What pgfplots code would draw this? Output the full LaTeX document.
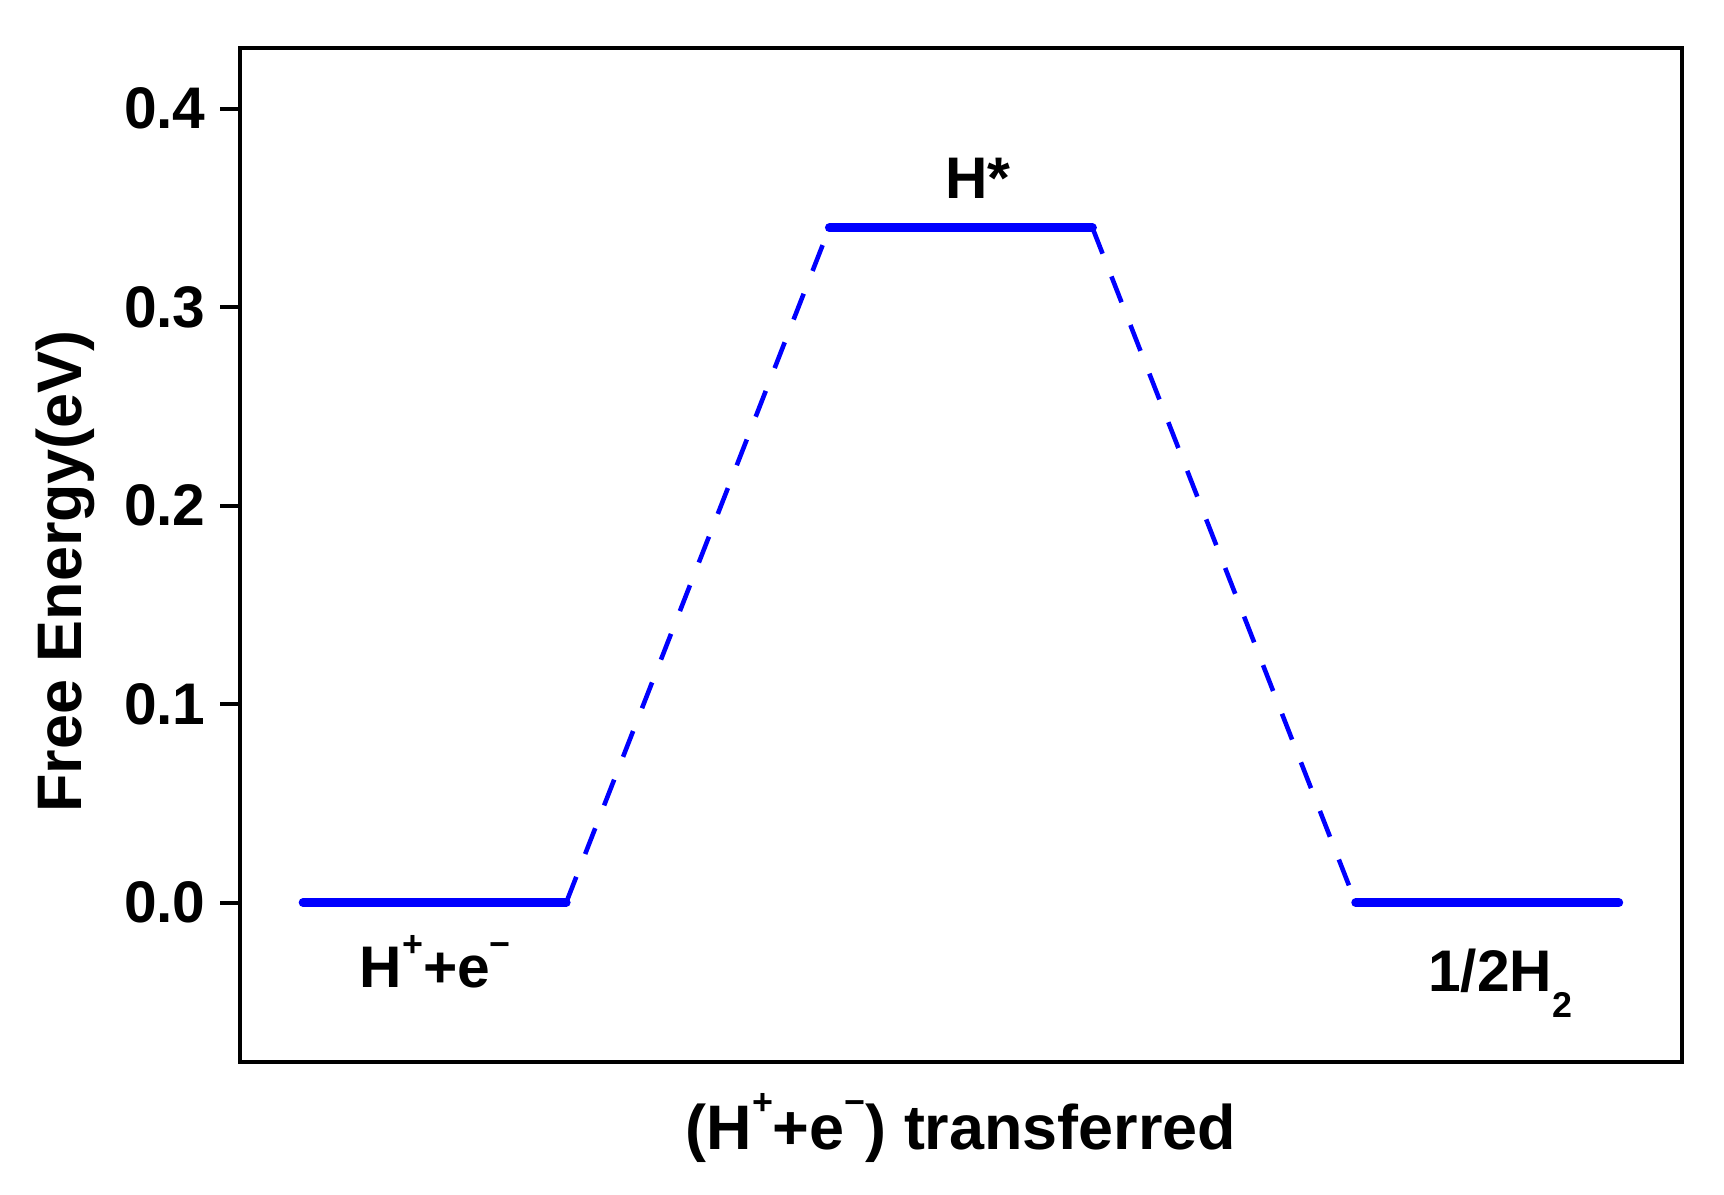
\documentclass[border=0pt]{standalone}
\usepackage{fontspec}
\setmainfont{Liberation Sans}
\usepackage{pgfplots}
\pgfplotsset{compat=1.18}
\definecolor{lvl}{RGB}{0,0,255}
\newcommand{\up}[2][9.6pt]{\raisebox{#1}{\fontsize{11}{12}\selectfont #2}}
\newcommand{\down}[1]{\raisebox{-7.7pt}{\fontsize{11}{12}\selectfont #1}}

\begin{document}
\begin{tikzpicture}
\begin{axis}[
    scale only axis,
    width=442.4pt, height=311pt,
    xmin=-0.24, xmax=5.24,
    ymin=-0.0803, ymax=0.4305,
    axis line style={line width=1.2pt},
    xtick=\empty,
    ytick={0,0.1,0.2,0.3,0.4},
    ytick pos=left,
    tick align=outside,
    major tick length=6pt,
    every tick/.style={black, line width=1.2pt},
    yticklabel style={/pgf/number format/.cd, fixed, fixed zerofill, precision=1, assume math mode=true},
    ticklabel style={font=\fontsize{18}{20}\selectfont\bfseries},
    yticklabel shift=1pt,
    label style={font=\fontsize{19.3}{22}\selectfont\bfseries},
    xlabel={(H\up[10.5pt]{+}+e\up[10.5pt]{−}) transferred},
    ylabel={Free Energy(eV)},
    xlabel style={at={(axis description cs:0.5,0)}, anchor=base, yshift=-26.7pt},
    ylabel style={at={(axis description cs:-0.1212,0.484)}, anchor=center},
    clip=false,
]
% energy levels
\addplot[lvl, line width=2.7pt, line cap=round] coordinates {(0,0) (1,0)};
\addplot[lvl, line width=2.7pt, line cap=round] coordinates {(2,0.34) (3,0.34)};
\addplot[lvl, line width=2.7pt, line cap=round] coordinates {(4,0) (5,0)};
% connectors
\addplot[lvl, line width=1.4pt, dash pattern=on 8.5pt off 7.5pt] coordinates {(1,0) (2,0.34)};
\addplot[lvl, line width=1.4pt, dash pattern=on 8.5pt off 7.5pt] coordinates {(3,0.34) (4,0)};

\node[anchor=base, font=\fontsize{18}{20}\selectfont\bfseries] at (axis cs:2.565,0.355) {H*};
\node[anchor=base west, inner sep=0pt, font=\fontsize{18}{20}\selectfont\bfseries] at (axis cs:0.213,-0.043) {H\up{+}+e\up{−}};
\node[anchor=base west, inner sep=0pt, font=\fontsize{18}{20}\selectfont\bfseries] at (axis cs:4.273,-0.045) {1/2H\down{2}};
\end{axis}
\pgfresetboundingbox
\path ([shift={(-73.6pt,-40.8pt)}]current axis.south west) rectangle ([shift={(12.9pt,14.8pt)}]current axis.north east);
\end{tikzpicture}
\end{document}
